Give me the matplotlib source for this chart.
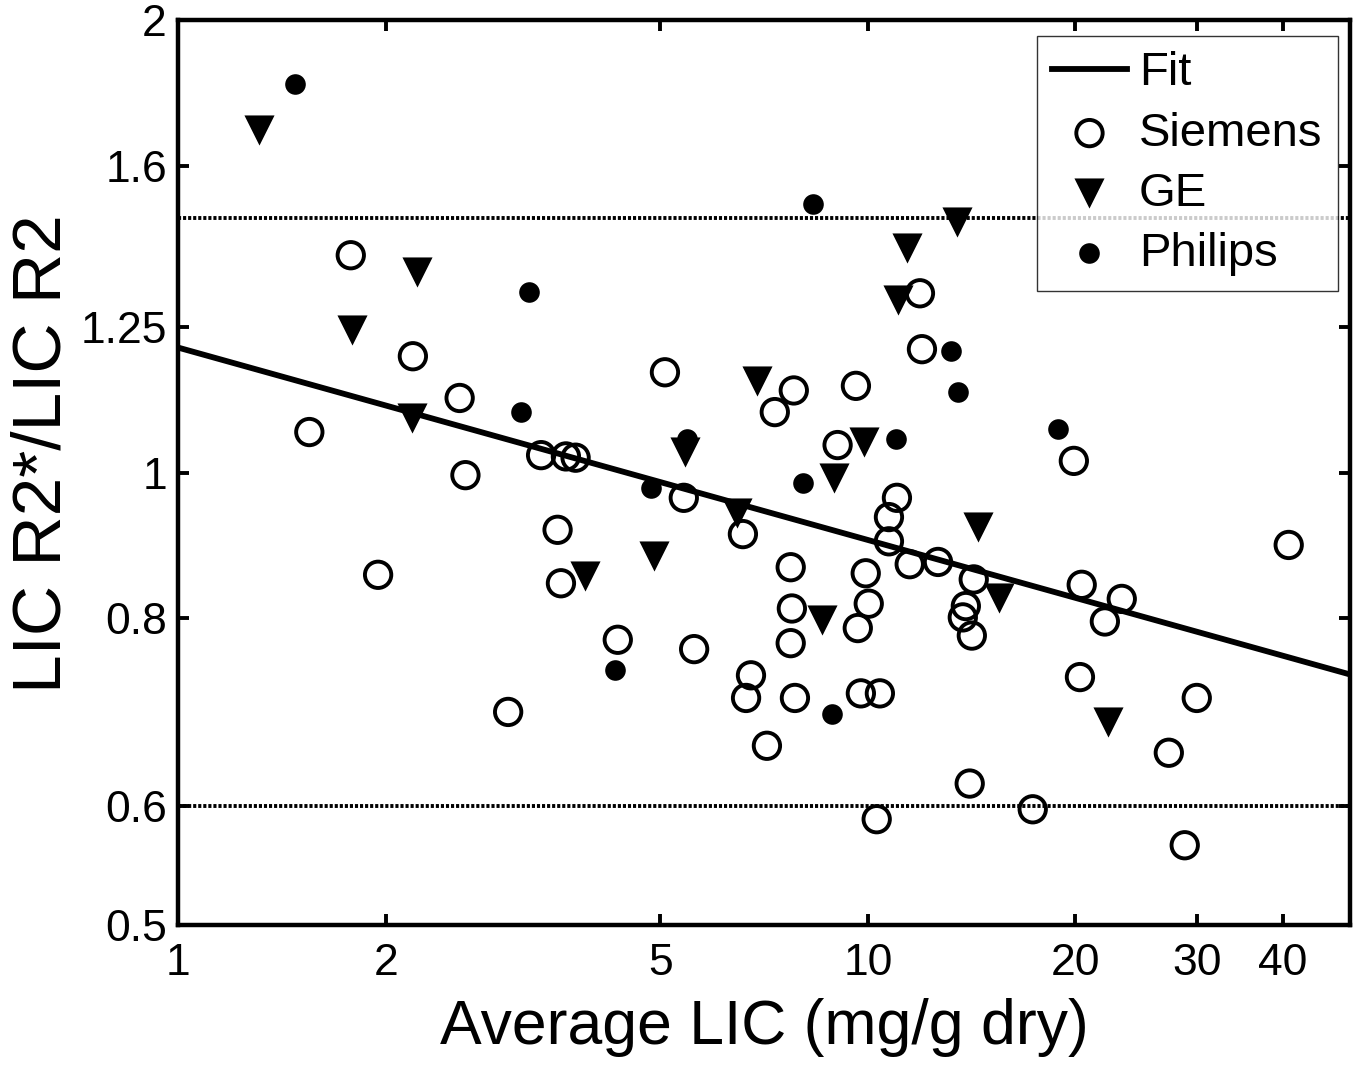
import numpy as np
import matplotlib
matplotlib.use("Agg")
import matplotlib.pyplot as plt

plt.rcParams['font.family'] = ['Liberation Sans', 'DejaVu Sans']

siemens_x = [1.55, 1.78, 1.95, 2.19, 2.56, 2.61, 3.01, 3.36, 3.55, 3.59, 3.65, 3.77,
             4.34, 5.08, 5.41, 5.60, 6.59, 6.66, 6.77, 7.14, 7.33, 7.73, 7.76, 7.73,
             7.81, 7.84, 9.04, 9.61, 9.67, 9.77, 9.93, 10.03, 10.41, 10.30, 10.73, 10.73,
             11.02, 11.50, 11.90, 11.98, 12.64, 13.73, 13.87, 14.15, 14.24, 14.05, 17.34,
             19.89, 20.42, 20.30, 22.06, 23.34, 27.31, 28.80, 29.98, 40.75]
siemens_y = [1.064, 1.395, 0.855, 1.195, 1.121, 0.996, 0.693, 1.027, 0.916, 0.844, 1.025, 1.023,
             0.774, 1.166, 0.962, 0.763, 0.910, 0.708, 0.733, 0.658, 1.097, 0.865, 0.812, 0.770,
             1.134, 0.708, 1.043, 1.142, 0.788, 0.713, 0.857, 0.818, 0.713, 0.588, 0.934, 0.900,
             0.962, 0.869, 1.316, 1.208, 0.872, 0.801, 0.815, 0.779, 0.849, 0.621, 0.597,
             1.018, 0.842, 0.731, 0.796, 0.824, 0.651, 0.565, 0.708, 0.895]

ge_x = [1.31, 1.79, 2.22, 2.18, 3.89, 4.90, 5.43, 6.46, 6.91, 8.58, 8.93, 9.87,
        11.39, 11.05, 13.46, 14.43, 15.48, 22.27]
ge_y = [1.690, 1.244, 1.360, 1.087, 0.853, 0.880, 1.032, 0.940, 1.150, 0.798, 0.992, 1.048,
        1.410, 1.302, 1.468, 0.920, 0.825, 0.682]

philips_x = [1.48, 3.14, 3.23, 4.30, 4.85, 5.47, 8.05, 8.32, 8.87, 10.98, 13.19, 13.50, 18.86]
philips_y = [1.813, 1.097, 1.318, 0.739, 0.976, 1.052, 0.984, 1.509, 0.691, 1.052, 1.205, 1.131, 1.069]

# power law fit y = a * x^b
fit_a = 1.211
fit_b = -0.128
upper_limit = 1.477
lower_limit = 0.60

x_ticks = [1, 2, 5, 10, 20, 30, 40]
y_ticks = [0.5, 0.6, 0.8, 1, 1.25, 1.6, 2]
x_range = [1, 50]
y_range = [0.5, 2]

fig = plt.figure(figsize=(13.58, 10.72), dpi=100)
ax = fig.add_axes([0.1311, 0.1371, 0.8630, 0.8442])
ax.set_xscale('log')
ax.set_yscale('log')

fx = np.logspace(np.log10(x_range[0]), np.log10(x_range[1]), 50)
ax.plot(fx, fit_a * fx ** fit_b, color='black', lw=4.2, label='Fit', zorder=3)
ax.axhline(upper_limit, color='black', lw=2.8, ls=(0, (0.8, 0.5)), zorder=1)
ax.axhline(lower_limit, color='black', lw=2.8, ls=(0, (0.8, 0.5)), zorder=1)

ax.scatter(siemens_x, siemens_y, s=360, marker='o', facecolors='none', edgecolors='black',
           linewidths=2.8, label='Siemens', zorder=4)
ax.scatter(ge_x, ge_y, s=470, marker='v', color='black', linewidths=0, label='GE', zorder=4)
ax.scatter(philips_x, philips_y, s=220, marker='o', color='black', linewidths=0,
           label='Philips', zorder=4)

ax.set_xlim(x_range)
ax.set_ylim(y_range)
ax.set_xticks(x_ticks)
ax.set_xticklabels([str(t) for t in x_ticks])
ax.set_yticks(y_ticks)
ax.set_yticklabels([str(t) for t in y_ticks])
ax.xaxis.set_minor_locator(matplotlib.ticker.NullLocator())
ax.yaxis.set_minor_locator(matplotlib.ticker.NullLocator())
ax.tick_params(axis='both', which='major', direction='in', length=8, width=2.8,
               top=True, right=True, labelsize=32)
ax.tick_params(axis='x', pad=13)
ax.tick_params(axis='y', pad=8)
for sp in ax.spines.values():
    sp.set_linewidth(3.2)

ax.set_xlabel('Average LIC (mg/g dry)', fontsize=45, labelpad=10)
ax.set_ylabel('LIC R2*/LIC R2', fontsize=50)
ax.yaxis.set_label_coords(-0.088, 0.521)

leg = ax.legend(loc='upper right', bbox_to_anchor=(0.9895, 0.982), fontsize=34,
                frameon=True, fancybox=False, edgecolor='black', handlelength=1.6,
                handletextpad=0.25, labelspacing=0.34, borderpad=0.32, borderaxespad=0)
leg.get_frame().set_linewidth(1.0)

plt.savefig('out.png', dpi=100)
